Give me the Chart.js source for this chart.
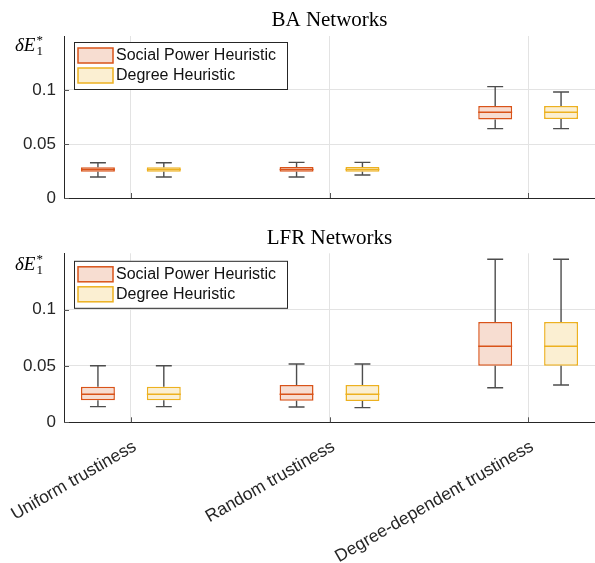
<!DOCTYPE html>
<html><head><meta charset="utf-8">
<script src="https://cdn.jsdelivr.net/npm/chart.js@4"></script>
<style>
html,body{margin:0;padding:0;background:#fff;}
#wrap{position:relative;width:595px;height:563px;overflow:hidden;}
canvas{position:absolute;left:0;}
</style></head><body>
<div id="wrap">
<canvas id="ba" width="595" height="212" style="top:0px"></canvas>
<canvas id="lfr" width="595" height="351" style="top:212px"></canvas>
</div>
<script>
// ---------- data ----------
const categories = ['Uniform trustiness', 'Random trustiness', 'Degree-dependent trustiness'];
const seriesLabels = ['Social Power Heuristic', 'Degree Heuristic'];
const yTickValues = [0, 0.05, 0.1];
const yTickLabels = ['0', '0.05', '0.1'];

// BA networks
const baSocialMin    = [0.0194, 0.0194, 0.0642];
const baSocialQ1     = [0.0244, 0.0244, 0.0728];
const baSocialMedian = [0.0264, 0.0265, 0.0793];
const baSocialQ3     = [0.0284, 0.0287, 0.0852];
const baSocialMax    = [0.0327, 0.0330, 0.1031];
const baDegreeMin    = [0.0194, 0.0213, 0.0642];
const baDegreeQ1     = [0.0244, 0.0244, 0.0731];
const baDegreeMedian = [0.0264, 0.0265, 0.0793];
const baDegreeQ3     = [0.0284, 0.0287, 0.0852];
const baDegreeMax    = [0.0327, 0.0330, 0.0981];

// LFR networks
const lfrSocialMin    = [0.0139, 0.0136, 0.0307];
const lfrSocialQ1     = [0.0195, 0.0192, 0.0503];
const lfrSocialMedian = [0.0249, 0.0249, 0.0675];
const lfrSocialQ3     = [0.0316, 0.0331, 0.0891];
const lfrSocialMax    = [0.0502, 0.0518, 0.1447];
const lfrDegreeMin    = [0.0139, 0.0130, 0.0331];
const lfrDegreeQ1     = [0.0195, 0.0190, 0.0503];
const lfrDegreeMedian = [0.0249, 0.0249, 0.0675];
const lfrDegreeQ3     = [0.0316, 0.0330, 0.0891];
const lfrDegreeMax    = [0.0502, 0.0518, 0.1447];

// ---------- styles ----------
const edgeColors = ['#D95319', '#EDB120'];
const fillColors = ['#F7DDD1', '#FBEFD2'];
const SANS = '"Liberation Sans", Arial, Helvetica, sans-serif';
const SERIF = '"Liberation Serif", "Times New Roman", serif';
const AXIS = '#262626';
const GRID = '#E3E3E3';

const boxPlugin = {
  id: 'boxWhiskers',
  afterDatasetsDraw(chart) {
    const ctx = chart.ctx, ys = chart.scales.y;
    chart.data.datasets.forEach((ds, di) => {
      const meta = chart.getDatasetMeta(di);
      meta.data.forEach((el, i) => {
        const cx = el.x, w = el.width;
        const pTop = Math.min(el.y, el.base), pBot = Math.max(el.y, el.base);
        const pMax = ys.getPixelForValue(ds.whiskerHigh[i]);
        const pMin = ys.getPixelForValue(ds.whiskerLow[i]);
        const pMed = ys.getPixelForValue(ds.median[i]);
        const cap = w * 0.235;
        ctx.save();
        ctx.strokeStyle = '#4D4D4D';
        ctx.lineWidth = 1.4;
        ctx.beginPath();
        ctx.moveTo(cx, pTop); ctx.lineTo(cx, pMax);
        ctx.moveTo(cx, pBot); ctx.lineTo(cx, pMin);
        ctx.moveTo(cx - cap, pMax); ctx.lineTo(cx + cap, pMax);
        ctx.moveTo(cx - cap, pMin); ctx.lineTo(cx + cap, pMin);
        ctx.stroke();
        ctx.strokeStyle = ds.borderColor;
        ctx.lineWidth = 1.5;
        ctx.beginPath();
        ctx.moveTo(cx - w / 2, pMed); ctx.lineTo(cx + w / 2, pMed);
        ctx.stroke();
        ctx.restore();
      });
    });
  }
};

const decorPlugin = {
  id: 'panelDecor',
  afterDraw(chart, args, opts) {
    const ctx = chart.ctx, a = chart.chartArea;
    const xs = chart.scales.x, ys = chart.scales.y;
    ctx.save();
    // inward tick marks
    ctx.strokeStyle = '#555';
    ctx.lineWidth = 1;
    ctx.beginPath();
    xs.ticks.forEach(t => {
      const px = Math.round(xs.getPixelForValue(t.value)) + 0.5;
      ctx.moveTo(px, a.bottom); ctx.lineTo(px, a.bottom - 5);
    });
    ys.ticks.forEach(t => {
      const py = Math.round(ys.getPixelForValue(t.value)) + 0.5;
      ctx.moveTo(a.left, py); ctx.lineTo(a.left + 5, py);
    });
    ctx.stroke();
    // title
    ctx.fillStyle = '#000';
    ctx.font = '21px ' + SERIF;
    ctx.textAlign = 'center';
    ctx.textBaseline = 'middle';
    ctx.fillText(opts.title, (a.left + a.right) / 2, opts.titleY);
    // y label  δE_1^*
    ctx.textAlign = 'left';
    ctx.textBaseline = 'alphabetic';
    ctx.font = 'italic 19px ' + SERIF;
    const bx = 15, by = a.top + opts.labelDy;
    ctx.fillText('δE', bx, by);
    const wE = ctx.measureText('δE').width;
    ctx.font = '13px ' + SERIF;
    ctx.fillText('1', bx + wE + 1, by + 4);
    ctx.fillText('*', bx + wE + 1, by - 7);
    // legend
    const x0 = a.left + 10, y0 = a.top + opts.legendDy, lw = 213, lh = 47;
    ctx.fillStyle = '#fff';
    ctx.fillRect(x0, y0, lw, lh);
    ctx.strokeStyle = AXIS;
    ctx.lineWidth = 1;
    ctx.strokeRect(x0 + 0.5, y0 + 0.5, lw, lh);
    chart.data.datasets.forEach((ds, k) => {
      const py = y0 + 6 + k * 20;
      ctx.fillStyle = ds.backgroundColor;
      ctx.fillRect(x0 + 4, py, 35, 15);
      ctx.strokeStyle = ds.borderColor;
      ctx.lineWidth = 1.5;
      ctx.strokeRect(x0 + 4, py, 35, 15);
      ctx.fillStyle = '#111';
      ctx.font = '16px ' + SANS;
      ctx.textBaseline = 'middle';
      ctx.fillText(ds.label, x0 + 42, py + 8);
    });
    ctx.restore();
  }
};

function makePanel(id, opts, stats) {
  return new Chart(document.getElementById(id), {
    type: 'bar',
    data: {
      datasets: stats.map((s, k) => ({
        label: seriesLabels[k],
        data: categories.map((c, i) => ({ x: i + 1, y: [s.q1[i], s.q3[i]] })),
        whiskerLow: s.min,
        whiskerHigh: s.max,
        median: s.med,
        backgroundColor: fillColors[k],
        borderColor: edgeColors[k],
        borderWidth: 1.5,
        borderSkipped: false,
        categoryPercentage: 0.6633,
        barPercentage: 0.515
      }))
    },
    options: {
      responsive: false,
      animation: false,
      events: [],
      layout: { padding: { top: opts.padTop, left: 0, right: 0, bottom: 0 } },
      plugins: {
        legend: { display: false },
        tooltip: { enabled: false },
        title: { display: false },
        panelDecor: { title: opts.title, titleY: opts.titleY, labelDy: opts.labelDy, legendDy: opts.legendDy }
      },
      scales: {
        x: {
          type: 'linear',
          offset: false,
          min: 0.6633,
          max: 3.3367,
          afterBuildTicks: sc => { sc.ticks = categories.map((c, i) => ({ value: i + 1 })); },
          afterFit: sc => {
            sc.height = opts.xHeight;
            sc.paddingLeft = 0; sc.paddingRight = 0; sc.paddingTop = 0; sc.paddingBottom = 0;
          },
          grid: { color: GRID, lineWidth: 1, drawTicks: false, offset: false },
          border: { display: true, color: AXIS, width: 1 },
          ticks: {
            display: opts.showX,
            autoSkip: false,
            minRotation: 30,
            maxRotation: 30,
            padding: 14,
            labelOffset: 4,
            color: AXIS,
            font: { family: SANS, size: 17.5 },
            callback: (v, i) => categories[i]
          }
        },
        y: {
          type: 'linear',
          min: 0,
          max: 0.15,
          afterBuildTicks: sc => { sc.ticks = yTickValues.map(v => ({ value: v })); },
          afterFit: sc => {
            sc.width = 64;
            sc.paddingLeft = 0; sc.paddingRight = 0; sc.paddingTop = 0; sc.paddingBottom = 0;
          },
          grid: { color: GRID, lineWidth: 1, drawTicks: false },
          border: { display: true, color: AXIS, width: 1 },
          ticks: {
            padding: 8,
            color: AXIS,
            font: { family: SANS, size: 17 },
            callback: (v, i) => yTickLabels[i]
          }
        }
      }
    },
    plugins: [boxPlugin, decorPlugin]
  });
}

makePanel('ba',
  { title: 'BA Networks', titleY: 20, padTop: 36, xHeight: 14, showX: false, labelDy: 15, legendDy: 6 },
  [
    { min: baSocialMin, q1: baSocialQ1, med: baSocialMedian, q3: baSocialQ3, max: baSocialMax },
    { min: baDegreeMin, q1: baDegreeQ1, med: baDegreeMedian, q3: baDegreeQ3, max: baDegreeMax }
  ]);

makePanel('lfr',
  { title: 'LFR Networks', titleY: 26, padTop: 41.3, xHeight: 140.7, showX: true, labelDy: 16.5, legendDy: 7.5 },
  [
    { min: lfrSocialMin, q1: lfrSocialQ1, med: lfrSocialMedian, q3: lfrSocialQ3, max: lfrSocialMax },
    { min: lfrDegreeMin, q1: lfrDegreeQ1, med: lfrDegreeMedian, q3: lfrDegreeQ3, max: lfrDegreeMax }
  ]);
</script>
</body></html>
